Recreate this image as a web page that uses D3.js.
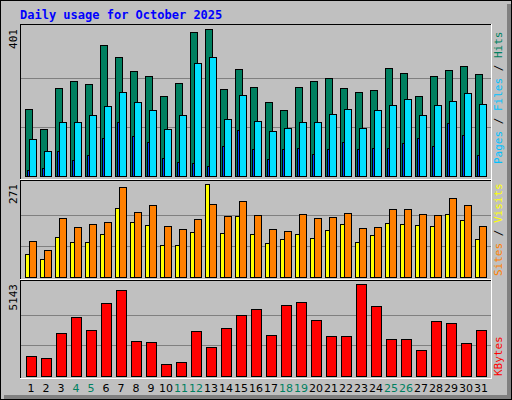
<!DOCTYPE html>
<html><head><meta charset="utf-8">
<script src="https://cdn.jsdelivr.net/npm/d3@7"></script>
<style>body{margin:0;background:#fff}</style></head>
<body><script>
const days = d3.range(1,32);
const weekend = [4,5,11,12,18,19,25,26];
const hits  = [182,127,239,258,250,356,324,286,272,217,253,392,401,236,291,242,201,179,242,258,267,239,228,234,294,280,217,272,288,299,277];
const files = [100,67,146,146,166,190,228,201,179,127,166,307,324,155,220,149,122,130,146,146,168,182,130,179,193,209,166,193,204,226,196];
const pages = [16,21,67,43,56,103,146,108,92,48,37,35,26,81,125,73,46,73,76,59,73,92,73,76,76,89,103,81,144,111,56];
const visits= [66,51,118,101,101,124,200,159,151,92,92,130,271,127,177,124,98,110,124,115,136,154,101,121,156,154,151,148,183,165,112];
const sites = [104,80,171,145,154,159,262,189,209,148,139,168,212,177,221,180,139,133,183,171,174,186,142,145,198,198,183,180,230,209,148];
const kbytes= [1145,1032,2384,3285,2553,4073,4805,1933,1877,694,807,2496,1595,2665,3397,3735,2271,3960,4129,3116,2215,2215,5143,3904,2046,2046,1426,3059,2947,1821,2553];

const W=512,H=400;
const svg=d3.select("body").append("svg").attr("width",W).attr("height",H);
svg.append("rect").attr("width",W).attr("height",H).attr("fill","#c0c0c0");
svg.append("rect").attr("x",0.5).attr("y",0.5).attr("width",W-1).attr("height",H-1).attr("fill","none").attr("stroke","#000");
svg.append("rect").attr("x",507).attr("y",4).attr("width",4).attr("height",395).attr("fill","#808080");
svg.append("rect").attr("x",4).attr("y",395).attr("width",507).attr("height",4).attr("fill","#808080");
svg.append("rect").attr("x",0.5).attr("y",0.5).attr("width",W-1).attr("height",H-1).attr("fill","none").attr("stroke","#000");

svg.append("text").attr("x",20).attr("y",19).attr("fill","#0000ff")
  .style("font","bold 12px 'DejaVu Sans Mono', monospace").text("Daily usage for October 2025");

const x=d3.scaleLinear().domain([1,32]).range([25,490]);
const L=20,R=491;
const font="11px 'DejaVu Sans Mono', monospace";

function panel(y0,y1,top,base,max){
  const g=svg.append("g");
  g.append("line").attr("x1",L).attr("x2",R).attr("y1",y0+0.5).attr("y2",y0+0.5).attr("stroke","#000");
  g.append("line").attr("x1",L+0.5).attr("x2",L+0.5).attr("y1",y0).attr("y2",y1).attr("stroke","#000");
  g.append("line").attr("x1",L).attr("x2",R).attr("y1",y1+0.5).attr("y2",y1+0.5).attr("stroke","#fff");
  g.append("line").attr("x1",R+0.5).attr("x2",R+0.5).attr("y1",y0).attr("y2",y1+1).attr("stroke","#fff");
  const y=d3.scaleLinear().domain([0,max]).range([base,top]);
  [1/3,2/3].forEach(f=>g.append("line").attr("x1",L+1).attr("x2",R).attr("y1",Math.round(y(max*f))+0.5).attr("y2",Math.round(y(max*f))+0.5).attr("stroke","#808080"));
  g.append("text").attr("transform",`translate(17,${top}) rotate(-90)`).attr("text-anchor","end")
   .style("font",font).attr("fill","#000").text(max);
  return y;
}
function bars(y,data,dx,w,color){
  svg.append("g").selectAll("rect").data(data).join("rect")
   .attr("x",(d,i)=>Math.round(x(i+1))+dx+0.5).attr("width",w)
   .attr("y",d=>Math.round(y(d))+0.5).attr("height",d=>Math.max(0,y(0)-Math.round(y(d))))
   .attr("fill",color).attr("stroke","#000");
}
const y1=panel(24,179,29,176,401);
bars(y1,hits,0,7,"#008060");
bars(y1,pages,2,2,"#0040ff");
bars(y1,files,4,7,"#00e0ff");
const y2=panel(180,279,184,277,271);
bars(y2,visits,0,4,"#ffff00");
bars(y2,sites,4,7,"#ff8000");
const y3=panel(280,378,284,376,5143);
bars(y3,kbytes,1,10,"#ff0000");

svg.append("g").selectAll("text").data(days).join("text")
  .attr("x",d=>x(d)+6).attr("y",392).attr("text-anchor","middle")
  .style("font","11px 'DejaVu Sans', sans-serif")
  .attr("fill",d=>weekend.includes(d)?"#008060":"#000").text(d=>d);

function side(y,parts){
  const t=svg.append("text").attr("transform",`translate(502,${y}) rotate(-90)`).style("font",font);
  parts.forEach(([s,c])=>t.append("tspan").attr("fill",c).text(s));
}
side(164,[["Pages","#00c0ff"],[" / ","#000"],["Files","#00c0ff"],[" / ","#000"],["Hits","#008060"]]);
side(276,[["Sites","#ff8000"],[" / ","#000"],["Visits","#ffff00"]]);
side(376,[["KBytes","#ff0000"]]);
</script></body></html>
